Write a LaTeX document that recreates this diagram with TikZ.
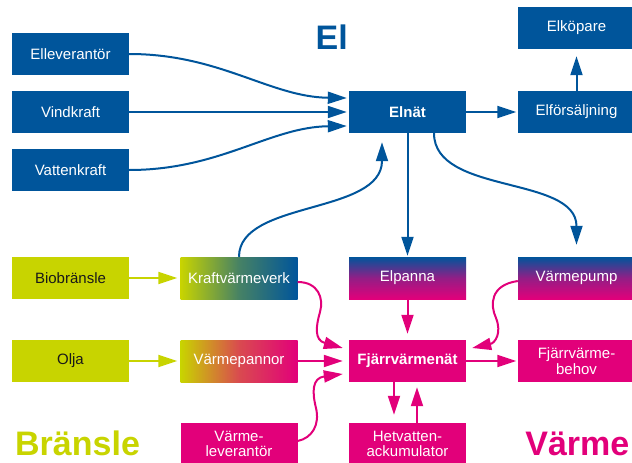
\documentclass[tikz,border=0pt]{standalone}
\usepackage{fontspec}
\setmainfont{Liberation Sans}
\usetikzlibrary{arrows.meta}
\definecolor{elblue}{HTML}{00559B}
\definecolor{varmag}{HTML}{E2007A}
\definecolor{branlime}{HTML}{C8D400}
\tikzset{
  box/.style={minimum width=117pt, minimum height=42pt, inner sep=0pt, align=center, text=white,
    font=\fontsize{15}{15.5}\selectfont},
  bluebox/.style={box, fill=elblue},
  magbox/.style={box, fill=varmag},
  limebox/.style={box, fill=branlime, text=black!90},
  tip/.style={-{Triangle[length=19pt,width=12pt]}},
  bl/.style={draw=elblue, line width=2pt, tip, elblue},
  mg/.style={draw=varmag, line width=2pt, tip, varmag},
  lm/.style={draw=branlime, line width=2pt, tip, branlime},
  title/.style={font=\fontsize{34}{36}\selectfont\bfseries, inner sep=0pt}
}
\begin{document}
\begin{tikzpicture}[x=1pt,y=-1pt]
\useasboundingbox (0,0) rectangle (632,463);
% nodes
\node[bluebox] (elev) at (70.5,54) {Elleverantör};
\node[bluebox] (vind) at (70.5,112) {Vindkraft};
\node[bluebox] (vatt) at (70.5,170) {Vattenkraft};
\node[bluebox, font=\fontsize{15}{15.5}\selectfont\bfseries] (elnat) at (407.5,112) {Elnät};
\node[bluebox] (elkop) at (576.5,28) {Elköpare};
\node[bluebox] (elfors) at (576.5,112) {Elförsäljning};
\node[limebox] (bio) at (70.5,278) {Biobränsle};
\node[box, left color=branlime, right color=elblue, middle color=branlime!35!elblue] (kvv) at (239,278) {Kraftvärmeverk};
\node[box, top color=elblue, bottom color=varmag, middle color=varmag!65!elblue] (elpanna) at (407.5,278) {Elpanna};
\node[box, top color=elblue, bottom color=varmag, middle color=varmag!65!elblue] (vpump) at (576.5,278) {Värmepump};
\node[limebox] (olja) at (70.5,361) {Olja};
\node[box, left color=branlime, right color=varmag, middle color=varmag!65!branlime] (vpann) at (239,361) {Värmepannor};
\node[magbox, font=\fontsize{15}{15.5}\selectfont\bfseries] (fjv) at (407.5,361) {Fjärrvärmenät};
\node[magbox] (fjvb) at (576.5,361) {Fjärrvärme-\\behov};
\node[magbox] (vlev) at (239,444) {Värme-\\leverantör};
\node[magbox] (hetv) at (407.5,444) {Hetvatten-\\ackumulator};
% titles
\node[title, text=elblue, anchor=base west] (tel) at (315.5,49) {El};
\node[title, text=branlime, anchor=base west] (tbr) at (15,455) {Bränsle};
\node[title, text=varmag, anchor=base east] (tva) at (629.5,455) {Värme};
% connectors
\draw[bl] (elev.east) .. controls (220,54) and (270,97) .. ([xshift=-2pt,yshift=14pt]elnat.west);
\draw[bl] (vind.east) -- ([xshift=-2pt]elnat.west);
\draw[bl] (vatt.east) .. controls (220,170) and (270,127) .. ([xshift=-2pt,yshift=-14pt]elnat.west);
\draw[bl] (kvv.north) .. controls (239,200) and (382,215) .. ([xshift=-25.5pt,yshift=-9pt]elnat.south);
\draw[bl, shorten >=1pt] (elnat.south) -- (elpanna.north);
\draw[bl] ([xshift=26.5pt]elnat.south) .. controls (434,195) and (576.5,175) .. ([yshift=12pt]vpump.north);
\draw[bl, shorten >=1.5pt] (elnat.east) -- (elfors.west);
\draw[bl, shorten >=7pt] (elfors.north) -- (elkop.south);
\draw[lm, shorten >=3pt] (bio.east) -- (kvv.west);
\draw[lm, shorten >=3pt] (olja.east) -- (vpann.west);
\draw[mg] ([yshift=-4pt]kvv.east) .. controls (318,282) and (324,298) .. (320,312)
   .. controls (316,326) and (314,340) .. ([xshift=-6pt,yshift=13pt]fjv.west);
\draw[mg, shorten >=6pt] (vpann.east) -- (fjv.west);
\draw[mg] ([yshift=3pt]vlev.east) .. controls (312,438) and (320,425) .. (316,408)
   .. controls (312,392) and (312,378) .. ([xshift=-6pt,yshift=-13pt]fjv.west);
\draw[mg, shorten >=6pt] (elpanna.south) -- (fjv.north);
\draw[mg] ([yshift=-3pt]vpump.west) .. controls (490,285) and (490,305) .. (496,318)
   .. controls (502,333) and (495,343) .. ([xshift=6pt,yshift=13pt]fjv.east);
\draw[mg, shorten >=1.5pt] (fjv.east) -- (fjvb.west);
\draw[mg, shorten >=8pt] ([xshift=-13.5pt]fjv.south) -- ([xshift=-13.5pt]hetv.north);
\draw[mg, shorten >=5pt] ([xshift=9.5pt]hetv.north) -- ([xshift=9.5pt]fjv.south);
\end{tikzpicture}
\end{document}
